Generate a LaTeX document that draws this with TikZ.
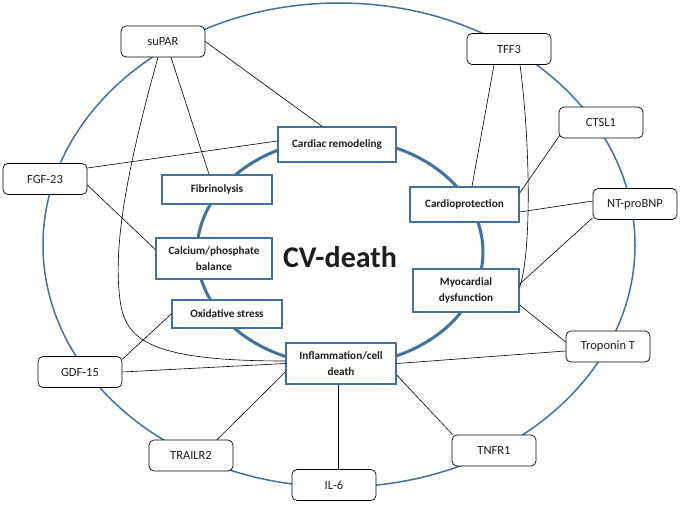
\documentclass[tikz,border=0pt]{standalone}
\usepackage{fontspec}
\setmainfont{Carlito}
\begin{document}
\begin{tikzpicture}[x=1pt,y=-1pt]
\definecolor{ring}{RGB}{65,113,156}
\definecolor{txt}{RGB}{30,30,30}
\tikzset{
 marker/.style={draw=black, line width=0.7pt, rounded corners=5pt, fill=white, minimum width=84pt, minimum height=31pt, inner sep=0pt, text=txt, font=\fontsize{12.5}{15}\selectfont},
 concept/.style={draw=ring, line width=1.4pt, fill=white, inner sep=0pt, text=txt, font=\bfseries\fontsize{11.2}{16}\selectfont, align=center},
 link/.style={draw=black, line width=0.6pt},
}
\useasboundingbox[fill=white] (0,0) rectangle (680,504);
\draw[ring, line width=1.5pt] (339,245) ellipse [x radius=296, y radius=242];
\draw[ring, line width=3pt] (340,252) ellipse [x radius=143, y radius=113];

% concept boxes
\node[concept, minimum width=118pt, minimum height=35pt] (cardiac) at (337,144.5) {Cardiac remodeling};
\node[concept, minimum width=110pt, minimum height=29pt] (fibrin) at (217,189.5) {Fibrinolysis};
\node[concept, minimum width=116pt, minimum height=41pt] (calcium) at (214,258.5) {Calcium/phosphate\\balance};
\node[concept, minimum width=110pt, minimum height=28pt] (oxid) at (227,314) {Oxidative stress};
\node[concept, minimum width=110pt, minimum height=41pt] (infl) at (341,363.5) {Inflammation/cell\\death};
\node[concept, minimum width=106pt, minimum height=43pt] (myo) at (466,290.5) {Myocardial\\dysfunction};
\node[concept, minimum width=109pt, minimum height=35pt] (cardio) at (464.5,204.5) {Cardioprotection};

\node[text=txt, font=\bfseries\fontsize{30}{34}\selectfont] (cv) at (340,257) {CV-death};

% markers
\node[marker] (supar) at (163,41.5) {suPAR};
\node[marker] (fgf) at (45,179) {FGF-23};
\node[marker] (gdf) at (80,372) {GDF-15};
\node[marker] (trail) at (191,455.5) {TRAILR2};
\node[marker] (il6) at (334,485) {IL-6};
\node[marker] (tnfr) at (494,450.5) {TNFR1};
\node[marker] (trop) at (608,346.5) {Troponin T};
\node[marker] (ntpro) at (635,204) {NT-proBNP};
\node[marker] (ctsl) at (601,122.5) {CTSL1};
\node[marker] (tff) at (509,49) {TFF3};

% connectors
\draw[link] (supar.east) -- ([xshift=-15pt]cardiac.north);
\draw[link] ([xshift=8pt]supar.south) -- ([xshift=-8pt]fibrin.north);
\coordinate (bend) at (120,300);
\draw[link] ([xshift=-5pt]supar.south) .. controls (118,200) and (115,260) .. (bend)
  .. controls (125,340) and (150,361) .. ([yshift=2.5pt]infl.west);
\draw[link] ([yshift=11pt]fgf.east) -- ([yshift=3.5pt]cardiac.west);
\draw[link] ([yshift=-6pt]fgf.east) -- ([yshift=9pt]calcium.west);
\draw[link] ([yshift=-3pt]gdf.north east) -- (oxid.west);
\draw[link] (gdf.east) -- (infl.west);
\draw[link] ([xshift=26pt]trail.north) -- ([yshift=-8.5pt]infl.west);
\draw[link] ([xshift=-3pt]infl.south) -- ([xshift=4pt]il6.north);
\draw[link] ([xshift=1pt]tnfr.north west) -- ([yshift=-11.5pt]infl.east);
\draw[link] ([yshift=-4.5pt]trop.west) -- (infl.east);
\draw[link] ([yshift=4.5pt]trop.west) -- ([yshift=-14.5pt]myo.east);
\draw[link] ([yshift=2pt]ntpro.south west) -- ([yshift=6.5pt]myo.east);
\draw[link] ([yshift=3pt]ntpro.west) -- ([yshift=-7.5pt]cardio.east);
\draw[link] ([xshift=1pt,yshift=3pt]ctsl.south west) -- ([yshift=11.5pt]cardio.east);
\draw[link] ([xshift=-15pt]tff.south) -- ([xshift=7.5pt]cardio.north);
\draw[link] ([xshift=11pt]tff.south) .. controls (530,140) and (532,250) .. ([yshift=3.5pt]myo.east);
\end{tikzpicture}
\end{document}
